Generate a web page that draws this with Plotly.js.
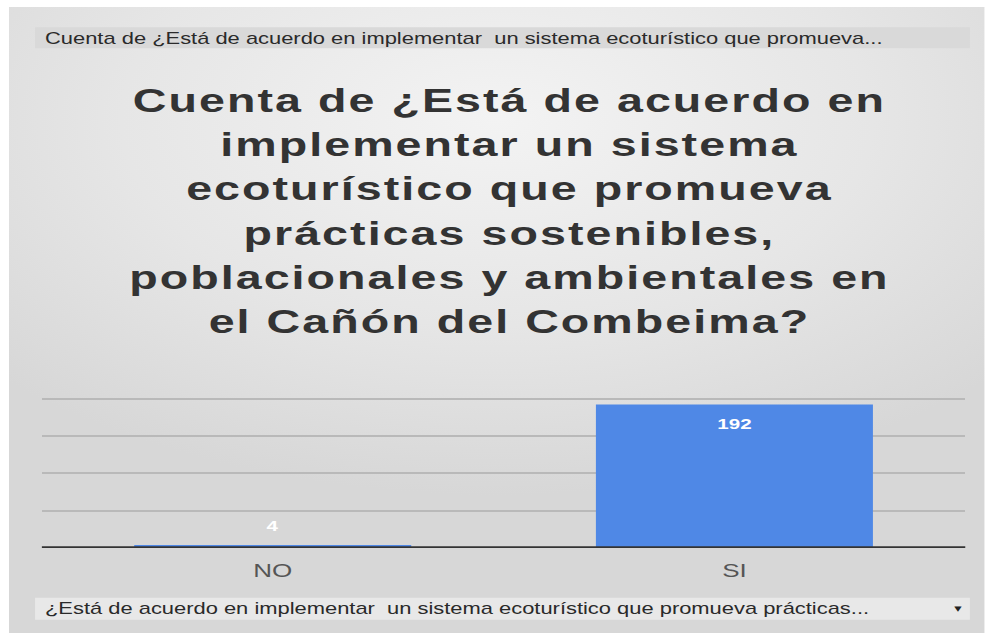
<!DOCTYPE html>
<html>
<head>
<meta charset="utf-8">
<script src="https://cdn.plot.ly/plotly-3.0.1.min.js"></script>
<style>
  html, body { margin:0; padding:0; background:#ffffff; width:985px; height:633px; overflow:hidden; }
  #chart {
    position:absolute; left:9px; top:7px; width:712px; height:626px;
    transform: scaleX(1.37); transform-origin: 0 0;
    background: radial-gradient(ellipse 70% 60% at 50% 18%, #f3f3f3 0%, #e6e6e6 55%, #d7d7d7 100%);
  }
  #chart .gtitle { letter-spacing: 1.5px; }
</style>
</head>
<body>
<div id="chart"></div>
<script>
const categories = ["NO", "SI"];
const counts = [4, 192];
const chartTitle = "Cuenta de ¿Está de acuerdo en<br>implementar un sistema<br>ecoturístico que promueva<br>prácticas sostenibles,<br>poblacionales y ambientales en<br>el Cañón del Combeima?";
const topCaption = "Cuenta de ¿Está de acuerdo en implementar  un sistema ecoturístico que promueva...";
const bottomCaption = "¿Está de acuerdo en implementar  un sistema ecoturístico que promueva prácticas...";
const yTicks = [0, 50, 100, 150, 200];

const trace = {
  type: "bar",
  x: categories,
  y: counts,
  marker: { color: "#4f88e6" },
  hoverinfo: "x+y"
};

const labelAnn = categories.map((c, i) => ({
  x: c, y: counts[i], xref: "x", yref: "y",
  text: String(counts[i]), showarrow: false,
  font: { family: "Liberation Sans, Arial, sans-serif", size: 15, color: "#ffffff", weight: "bold" },
  yanchor: counts[i] > 20 ? "top" : "bottom",
  yshift: counts[i] > 20 ? -9 : 9
}));

// plot area: value 0 at 541px, 0.75 px per unit; top a bit above 200 so its gridline is drawn
const yMax = 202;
const plotH = yMax * 0.75;

const layout = {
  width: 712, height: 626,
  paper_bgcolor: "rgba(0,0,0,0)",
  plot_bgcolor: "rgba(0,0,0,0)",
  margin: { l: 24, r: 14, t: 541 - plotH, b: 85 },
  title: {
    text: chartTitle,
    font: { family: "Liberation Sans, Arial, sans-serif", size: 34, color: "#333333", weight: "bold" },
    xref: "container", x: 0.513, xanchor: "center",
    yref: "container", y: 1 - 105/626, yanchor: "top"
  },
  bargap: 0.4,
  showlegend: false,
  xaxis: {
    type: "category",
    showgrid: false, zeroline: false, showline: false,
    ticks: "",
    tickfont: { family: "Liberation Sans, Arial, sans-serif", size: 19, color: "#555555" },
    ticklabelstandoff: 9
  },
  yaxis: {
    range: [0, yMax],
    tickvals: yTicks,
    showticklabels: false,
    showgrid: true, gridcolor: "#b9b9b9", gridwidth: 2,
    zeroline: false,
    showline: false, ticks: "", fixedrange: true
  },
  shapes: [
    { type: "rect", xref: "paper", yref: "paper", x0: -0.0074, x1: 1.005, y0: 1 + (391 - 41) / plotH, y1: 1 + (391 - 20) / plotH,
      fillcolor: "#d9d9d9", line: { width: 0 }, layer: "below" },
    { type: "rect", xref: "paper", yref: "paper", x0: -0.0074, x1: 1.005, y0: -(613 - 541) / plotH, y1: -(591 - 541) / plotH,
      fillcolor: "#e8e8e8", line: { width: 0 }, layer: "below" },
    { type: "line", xref: "paper", yref: "y", x0: 0, x1: 1, y0: 0, y1: 0,
      line: { color: "#333333", width: 3.5 }, layer: "above" }
  ],
  annotations: labelAnn.concat([
    { xref: "paper", yref: "paper", x: 0.0, y: 1 + (391 - 31) / plotH, xanchor: "left", yanchor: "middle",
      text: topCaption, showarrow: false,
      font: { family: "Liberation Sans, Arial, sans-serif", size: 16, color: "#2a2a2a" } },
    { xref: "paper", yref: "paper", x: 0.0, y: -(602 - 541) / plotH, xanchor: "left", yanchor: "middle",
      text: bottomCaption, showarrow: false,
      font: { family: "Liberation Sans, Arial, sans-serif", size: 16, color: "#2a2a2a" } },
    { xref: "paper", yref: "paper", x: 0.992, y: -(602 - 541) / plotH, xanchor: "center", yanchor: "middle",
      text: "▼", showarrow: false,
      font: { family: "DejaVu Sans, sans-serif", size: 7, color: "#222222" } }
  ])
};

Plotly.newPlot("chart", [trace], layout, { displayModeBar: false, staticPlot: true });
</script>
</body>
</html>
